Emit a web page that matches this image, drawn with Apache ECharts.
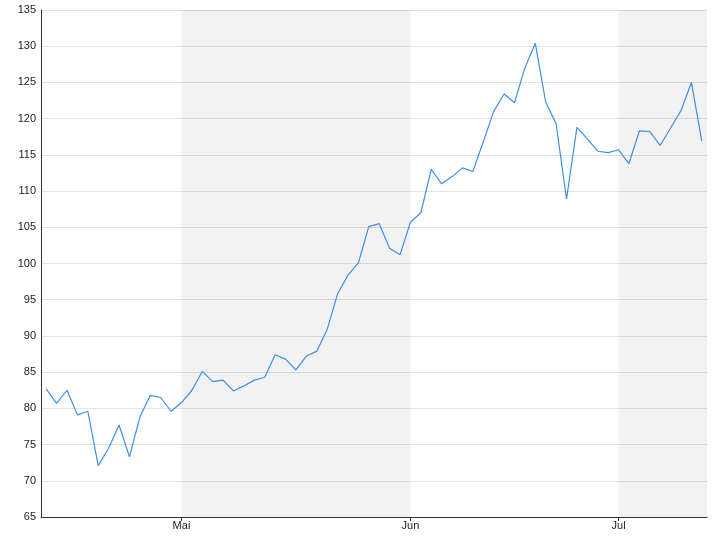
<!DOCTYPE html>
<html>
<head>
<meta charset="utf-8">
<script src="https://cdn.jsdelivr.net/npm/echarts@6/dist/echarts.min.js"></script>
<style>html,body{margin:0;padding:0;background:#fff}#c{width:720px;height:540px}</style>
</head>
<body>
<div id="c"></div>
<script>
// Trading days (categories)
var dates = [
  '2019-04-11','2019-04-12','2019-04-15','2019-04-16','2019-04-17','2019-04-18','2019-04-22','2019-04-23',
  '2019-04-24','2019-04-25','2019-04-26','2019-04-29','2019-04-30',
  '2019-05-01','2019-05-02','2019-05-03','2019-05-06','2019-05-07','2019-05-08','2019-05-09','2019-05-10',
  '2019-05-13','2019-05-14','2019-05-15','2019-05-16','2019-05-17','2019-05-20','2019-05-21','2019-05-22',
  '2019-05-23','2019-05-24','2019-05-28','2019-05-29','2019-05-30','2019-05-31',
  '2019-06-03','2019-06-04','2019-06-05','2019-06-06','2019-06-07','2019-06-10','2019-06-11','2019-06-12',
  '2019-06-13','2019-06-14','2019-06-17','2019-06-18','2019-06-19','2019-06-20','2019-06-21','2019-06-24',
  '2019-06-25','2019-06-26','2019-06-27','2019-06-28',
  '2019-07-01','2019-07-02','2019-07-03','2019-07-05','2019-07-08','2019-07-09','2019-07-10','2019-07-11','2019-07-12'
];
// Series values
var values = [
  82.7, 80.7, 82.5, 79.1, 79.6, 72.1, 74.5, 77.7, 73.3, 78.8, 81.8, 81.5, 79.6,
  80.8, 82.5, 85.1, 83.7, 83.9, 82.4, 83.1, 83.9, 84.3, 87.4, 86.8, 85.3, 87.2, 87.9, 90.9, 95.8,
  98.4, 100.1, 105.1, 105.5, 102.1, 101.2,
  105.7, 107.0, 113.0, 111.0, 112.0, 113.2, 112.7, 116.8, 121.0, 123.4, 122.2, 127.0, 130.4, 122.3,
  119.3, 108.9, 118.8, 117.2, 115.5, 115.3,
  115.7, 113.8, 118.3, 118.2, 116.3, 118.7, 121.1, 125.0, 116.9
];
// Tick labels (German month names)
var monthNames = ['Jan','Feb','Mär','Apr','Mai','Jun','Jul','Aug','Sep','Okt','Nov','Dez'];
var yMin = 65, yMax = 135, yStep = 5;

function isMonthStart(i) {
  return i > 0 && dates[i].slice(0, 7) !== dates[i - 1].slice(0, 7);
}
var monthStarts = [];
for (var i = 0; i < dates.length; i++) if (isMonthStart(i)) monthStarts.push(dates[i]);
// shaded bands: every other month starting with the first labelled month
var areas = [];
for (var k = 0; k < monthStarts.length; k += 2) {
  areas.push([{ xAxis: monthStarts[k] }, monthStarts[k + 1] ? { xAxis: monthStarts[k + 1] } : {}]);
}

var chart = echarts.init(document.getElementById('c'), null, { renderer: 'canvas' });
chart.setOption({
  animation: false,
  backgroundColor: '#ffffff',
  grid: { left: 41, right: 13, top: 10, bottom: 23, containLabel: false },
  xAxis: {
    type: 'category',
    data: dates,
    boundaryGap: true,
    axisLine: { show: true, lineStyle: { color: '#333', width: 1 } },
    axisTick: { show: true, alignWithLabel: true, length: 4, interval: function (i) { return isMonthStart(i); }, lineStyle: { color: '#333' } },
    axisLabel: {
      interval: function (i) { return isMonthStart(i); },
      formatter: function (v) { return monthNames[parseInt(v.slice(5, 7), 10) - 1]; },
      color: '#222', fontSize: 11, fontFamily: 'Liberation Sans, Arial, sans-serif', margin: 3
    },
    splitLine: { show: false }
  },
  yAxis: {
    type: 'value',
    min: yMin, max: yMax, interval: yStep,
    axisLine: { show: true, lineStyle: { color: '#333', width: 1 } },
    axisTick: { show: false },
    axisLabel: { color: '#222', fontSize: 11, fontFamily: 'Liberation Sans, Arial, sans-serif', margin: 5 },
    splitLine: { show: true, lineStyle: { color: '#e2e2e2', width: 1 } }
  },
  series: [{
    type: 'line',
    data: values,
    symbol: 'none',
    lineStyle: { color: '#3f8fe6', width: 1.2 },
    itemStyle: { color: '#3f8fe6' },
    markArea: {
      silent: true,
      itemStyle: { color: 'rgba(0,0,0,0.05)' },
      data: areas
    }
  }]
});
</script>
</body>
</html>
